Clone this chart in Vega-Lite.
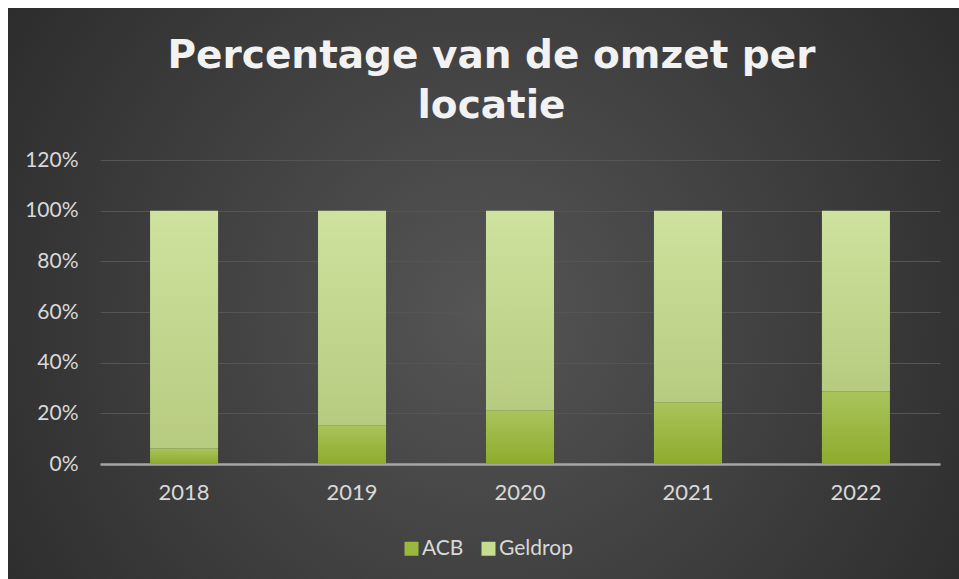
{
  "$schema": "https://vega.github.io/schema/vega-lite/v6.json",
  "width": 951,
  "height": 571,
  "autosize": {"type": "none"},
  "padding": {"left": 8, "top": 8, "right": 0, "bottom": 0},
  "background": "#ffffff",
  "config": {
    "font": "Lato",
    "view": {
      "stroke": null,
      "fill": {"gradient": "radial", "x1": 0.5, "y1": 0.52, "r1": 0, "x2": 0.5, "y2": 0.52, "r2": 0.72,
        "stops": [{"offset": 0, "color": "#555555"}, {"offset": 1, "color": "#242424"}]}
    }
  },
  "title": {
    "text": ["Percentage van de omzet per", "locatie"],
    "font": "DejaVu Sans",
    "fontSize": 39,
    "fontWeight": "bold",
    "color": "#f2f2f2",
    "lineHeight": 50,
    "anchor": "middle",
    "frame": "group",
    "offset": -118,
    "dx": 8
  },
  "data": {
    "values": [
      {"year": "2018", "loc": "ACB", "v": 0.062},
      {"year": "2018", "loc": "Geldrop", "v": 0.938},
      {"year": "2019", "loc": "ACB", "v": 0.153},
      {"year": "2019", "loc": "Geldrop", "v": 0.847},
      {"year": "2020", "loc": "ACB", "v": 0.212},
      {"year": "2020", "loc": "Geldrop", "v": 0.788},
      {"year": "2021", "loc": "ACB", "v": 0.244},
      {"year": "2021", "loc": "Geldrop", "v": 0.756},
      {"year": "2022", "loc": "ACB", "v": 0.287},
      {"year": "2022", "loc": "Geldrop", "v": 0.713}
    ]
  },
  "encoding": {
    "x": {
      "field": "year",
      "type": "nominal",
      "scale": {"range": [92, 932], "paddingInner": 0.595, "paddingOuter": 0.298},
      "axis": {
        "title": null,
        "offset": -115,
        "labelAngle": 0,
        "domainColor": "#a6a6a6",
        "domainWidth": 2.5,
        "ticks": false,
        "tickSize": 0,
        "labelColor": "#d9d9d9",
        "labelFontSize": 22,
        "labelPadding": 18,
        "grid": false
      }
    },
    "y": {
      "field": "v",
      "type": "quantitative",
      "stack": "zero",
      "scale": {"domain": [0, 1.2], "range": [456, 152], "nice": false},
      "axis": {
        "title": null,
        "format": ".0%",
        "values": [0, 0.2, 0.4, 0.6, 0.8, 1.0, 1.2],
        "offset": -92,
        "domain": false,
        "ticks": false,
        "tickSize": 0,
        "labelPadding": 22,
        "labelFontSize": 21,
        "labelColor": "#d9d9d9",
        "gridColor": "#555555",
        "gridWidth": 1.2
      }
    },
    "order": {"field": "loc", "sort": "ascending"}
  },
  "layer": [
    {
      "mark": {"type": "bar", "opacity": 0},
      "encoding": {
        "color": {
          "field": "loc",
          "type": "nominal",
          "scale": {"domain": ["ACB", "Geldrop"], "range": ["#9ab83d", "#c6dc8f"]},
          "legend": {
            "title": null,
            "orient": "none",
            "legendX": 393,
            "legendY": 530,
            "direction": "horizontal",
            "symbolType": "square",
            "symbolSize": 196,
            "symbolOpacity": 1,
            "symbolStrokeWidth": 0,
            "labelFontSize": 21,
            "labelColor": "#d9d9d9",
            "labelOffset": 0,
            "columnPadding": 14
          }
        }
      }
    },
    {
      "mark": {"type": "bar"},
      "encoding": {
        "detail": {"field": "loc", "type": "nominal"},
        "fill": {
          "condition": {
            "test": "datum.loc === 'ACB'",
            "value": {"gradient": "linear", "x1": 0, "y1": 0, "x2": 0, "y2": 1, "stops": [{"offset": 0, "color": "#a9c45c"}, {"offset": 1, "color": "#8fab2c"}]}
          },
          "value": {"gradient": "linear", "x1": 0, "y1": 0, "x2": 0, "y2": 1, "stops": [{"offset": 0, "color": "#cfe29e"}, {"offset": 1, "color": "#b7cb80"}]}
        }
      }
    }
  ]
}
